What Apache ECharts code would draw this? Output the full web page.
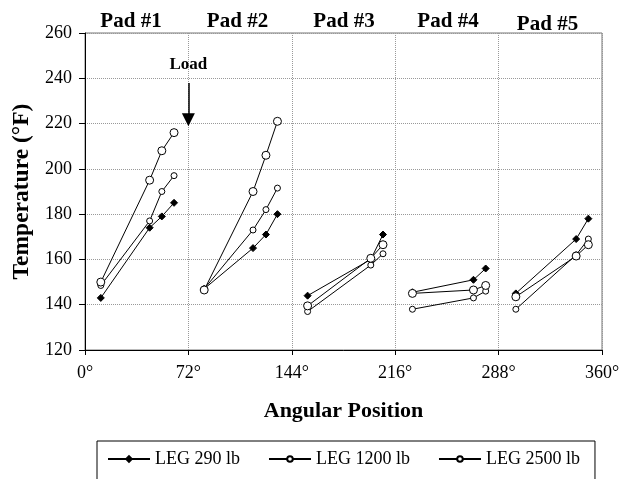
<!DOCTYPE html>
<html>
<head>
<meta charset="utf-8">
<script src="https://cdn.jsdelivr.net/npm/echarts@6/dist/echarts.min.js"></script>
<style>
  html, body { margin: 0; padding: 0; background: #fff; }
  #chart { width: 631px; height: 479px; }
</style>
</head>
<body>
<div id="chart"></div>
<script>
// Pad surface temperatures by angular position, one polyline per pad and load.
const padNames = ['Pad #1', 'Pad #2', 'Pad #3', 'Pad #4', 'Pad #5'];
const padAngles = [
  [11, 45, 53.5, 62],
  [83, 117, 126, 134],
  [155, 199, 207.5],
  [228, 270.5, 279],
  [300, 342, 350.5]
];
const leg290 = [
  [143, 174, 179, 185],
  [147, 165, 171, 180],
  [144, 160, 171],
  [145.5, 151, 156],
  [145, 169, 178]
];
const leg1200 = [
  [148.5, 177, 190, 197],
  [147, 173, 182, 191.5],
  [137, 157.5, 162.5],
  [138, 143, 146],
  [138, 162, 169]
];
const leg2500 = [
  [150, 195, 208, 216],
  [146.5, 190, 206, 221],
  [139.5, 160.5, 166.5],
  [145, 146.5, 148.5],
  [143.5, 161.5, 166.5]
];
const loadLabel = 'Load';
const loadAngle = 72;

const FONT = 'Liberation Serif';

const loads = [
  { name: 'LEG 290 lb', values: leg290, symbol: 'diamond', size: 7, fill: '#000' },
  { name: 'LEG 1200 lb', values: leg1200, symbol: 'circle', size: 6, fill: '#fff' },
  { name: 'LEG 2500 lb', values: leg2500, symbol: 'circle', size: 8, fill: '#fff' }
];

const series = [];
loads.forEach(function (ld) {
  ld.values.forEach(function (temps, p) {
    series.push({
      name: ld.name,
      type: 'line',
      data: padAngles[p].map(function (a, i) { return [a, temps[i]]; }),
      symbol: ld.symbol,
      symbolSize: ld.size,
      showAllSymbol: true,
      lineStyle: { color: '#000', width: 1 },
      itemStyle: { color: ld.fill, borderColor: '#000', borderWidth: 1 },
      emphasis: { disabled: true },
      animation: false
    });
  });
});

// Load direction arrow
series.push({
  type: 'line',
  data: [],
  silent: true,
  animation: false,
  markLine: {
    silent: true,
    animation: false,
    symbol: ['none', 'triangle'],
    symbolSize: 13,
    lineStyle: { color: '#000', width: 1.5, type: 'solid' },
    label: {
      show: true,
      position: 'start',
      formatter: loadLabel,
      color: '#000',
      fontFamily: FONT,
      fontWeight: 'bold',
      fontSize: 17,
      distance: 10
    },
    data: [[{ coord: [loadAngle, 237.9] }, { coord: [loadAngle, 221.7] }]]
  }
});

const padPos = [[131, 21.5], [237.5, 21.5], [344, 21.5], [448, 21.5], [547.5, 25]];

const chart = echarts.init(document.getElementById('chart'), null, { renderer: 'canvas' });
chart.setOption({
  backgroundColor: '#fff',
  animation: false,
  grid: {
    left: 85, right: 29, top: 33, bottom: 129,
    show: true, borderColor: '#777', borderWidth: 1, backgroundColor: 'transparent'
  },
  xAxis: {
    type: 'value',
    min: 0, max: 360, interval: 72,
    name: 'Angular Position',
    nameLocation: 'middle',
    nameGap: 50,
    nameTextStyle: { fontFamily: FONT, fontWeight: 'bold', fontSize: 22, color: '#000' },
    axisLine: { show: true, lineStyle: { color: '#000', width: 1 } },
    axisTick: { show: true, length: 5, lineStyle: { color: '#000' } },
    axisLabel: {
      formatter: '{value}°', margin: 14,
      fontFamily: FONT, fontSize: 18, color: '#000'
    },
    splitLine: { show: true, lineStyle: { color: '#999', type: 'dotted', width: 1 } }
  },
  yAxis: {
    type: 'value',
    min: 120, max: 260, interval: 20,
    name: 'Temperature (°F)',
    nameLocation: 'middle',
    nameGap: 48,
    nameTextStyle: { fontFamily: FONT, fontWeight: 'bold', fontSize: 23.5, color: '#000' },
    axisLine: { show: true, lineStyle: { color: '#000', width: 1 } },
    axisTick: { show: true, length: 6, lineStyle: { color: '#000' } },
    axisLabel: { margin: 13, fontFamily: FONT, fontSize: 18, color: '#000' },
    splitLine: { show: true, lineStyle: { color: '#999', type: 'dotted', width: 1 } }
  },
  legend: {
    data: loads.map(function (l) { return l.name; }),
    left: 97, top: 441,
    orient: 'horizontal',
    itemWidth: 42, itemHeight: 7, itemGap: 28,
    padding: [9, 15, 40, 10],
    borderColor: '#000', borderWidth: 1,
    textStyle: { fontFamily: FONT, fontSize: 18, color: '#000' },
    selectedMode: false
  },
  graphic: padNames.map(function (t, i) {
    return {
      type: 'text', x: padPos[i][0], y: padPos[i][1], silent: true,
      style: {
        text: t, fill: '#000', font: 'bold 21px "' + FONT + '"',
        textAlign: 'center', textVerticalAlign: 'middle'
      }
    };
  }),
  series: series
});
</script>
</body>
</html>
